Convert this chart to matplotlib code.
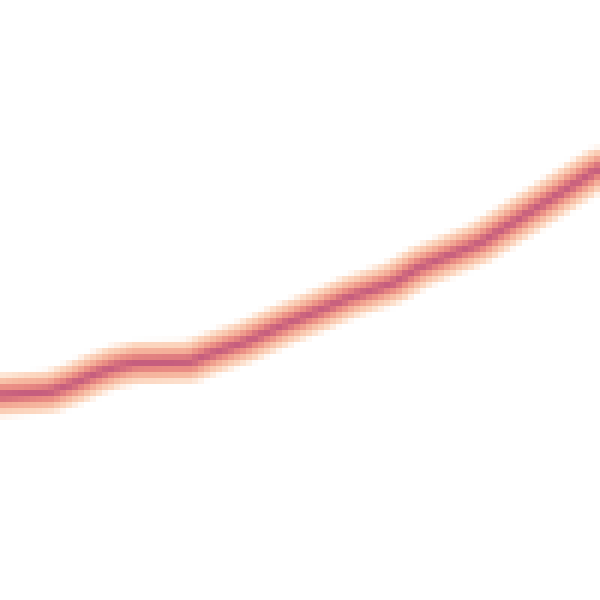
import numpy as np
import matplotlib
matplotlib.use("Agg")
import matplotlib.pyplot as plt

# curve (x left->right, y bottom->top, both 0..600)
xs = [-10, 0, 50, 75, 95, 115, 135, 190, 207, 233, 243, 283, 320, 350, 393, 420, 480, 520, 560, 593, 610]
ys = [205, 205, 208, 217, 226, 233, 237, 238, 245, 254, 257, 275, 290, 303, 317, 333, 357, 382, 407, 428, 436]

# glow layers: (width in px, colour)
layers = [(42, "#fddcc6"), (32, "#f8c0a6"), (22, "#f09a8a"), (14, "#e5817f"), (7, "#c65e7e")]

grid = 100  # coarse raster, like the reference cells

small = plt.figure(figsize=(6, 6), dpi=grid / 6)
sax = small.add_axes([0, 0, 1, 1])
for w, c in layers:
    sax.plot(xs, ys, color=c, lw=w * 72 / 100, solid_capstyle="butt")
sax.set_xlim(0, 600)
sax.set_ylim(0, 600)
sax.axis("off")
small.canvas.draw()
img = np.asarray(small.canvas.buffer_rgba()).copy()
plt.close(small)

fig = plt.figure(figsize=(6, 6), dpi=100)
ax = fig.add_axes([0, 0, 1, 1])
ax.imshow(img, interpolation="nearest", aspect="auto")
ax.axis("off")
fig.savefig("out.png", dpi=100, facecolor="white")
